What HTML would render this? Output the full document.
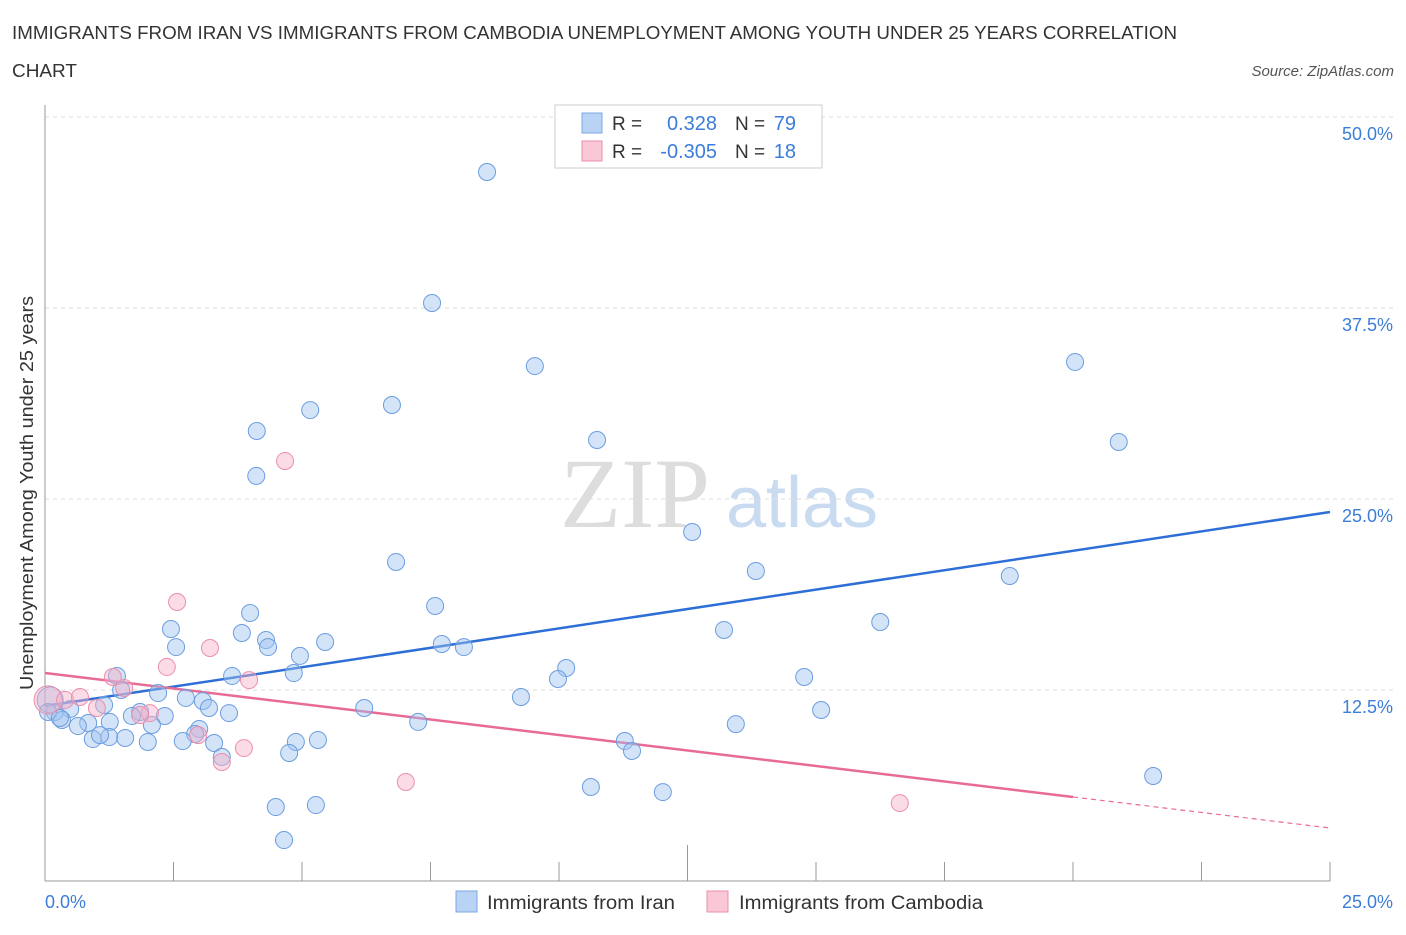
<!DOCTYPE html>
<html><head><meta charset="utf-8"><style>
body{margin:0;background:#fff;font-family:"Liberation Sans",sans-serif;}
</style></head><body>
<svg id="chart" width="1406" height="930" xmlns="http://www.w3.org/2000/svg" style="font-family:'Liberation Sans',sans-serif">
<text x="12" y="39" font-size="18.5" fill="#333" textLength="1165" lengthAdjust="spacingAndGlyphs">IMMIGRANTS FROM IRAN VS IMMIGRANTS FROM CAMBODIA UNEMPLOYMENT AMONG YOUTH UNDER 25 YEARS CORRELATION</text>
<text x="12" y="77" font-size="18.5" fill="#333" textLength="65" lengthAdjust="spacingAndGlyphs">CHART</text>
<text x="1394" y="76" font-size="15" fill="#555" font-style="italic" text-anchor="end">Source: ZipAtlas.com</text>
<text x="635" y="527" font-size="100" fill="#ddd" font-family="Liberation Serif,serif" text-anchor="middle">ZIP</text>
<text x="802" y="527" font-size="72" fill="#c9dbf0" text-anchor="middle">atlas</text>
<g id="grid"></g><g id="axes"></g><g id="trends"></g><g id="pts"></g>
<text x="33" y="493" font-size="18" fill="#333" text-anchor="middle" textLength="394" lengthAdjust="spacingAndGlyphs" transform="rotate(-90 33 493)">Unemployment Among Youth under 25 years</text>
<text x="45" y="908" font-size="18" fill="#3b7dd8">0.0%</text>
<text x="1393" y="908" font-size="18" fill="#3b7dd8" text-anchor="end">25.0%</text>
<g>
<rect x="555" y="105" width="267" height="63" fill="#fff" stroke="#ccc"/>
<rect x="582" y="113" width="20" height="20" fill="#b9d3f5" stroke="#7aa7e6"/>
<rect x="582" y="141" width="20" height="20" fill="#f9c7d6" stroke="#ec8fab"/>
<text x="612" y="130" font-size="19" fill="#333">R =</text><text x="717" y="130" font-size="20" fill="#3b7dd8" text-anchor="end">0.328</text>
<text x="735" y="130" font-size="19" fill="#333">N =</text><text x="796" y="130" font-size="20" fill="#3b7dd8" text-anchor="end">79</text>
<text x="612" y="158" font-size="19" fill="#333">R =</text><text x="717" y="158" font-size="20" fill="#3b7dd8" text-anchor="end">-0.305</text>
<text x="735" y="158" font-size="19" fill="#333">N =</text><text x="796" y="158" font-size="20" fill="#3b7dd8" text-anchor="end">18</text>
</g>
<g>
<rect x="456" y="891" width="21" height="21" fill="#b9d3f5" stroke="#7aa7e6"/>
<text x="487" y="909" font-size="19" fill="#333" textLength="188" lengthAdjust="spacingAndGlyphs">Immigrants from Iran</text>
<rect x="707" y="891" width="21" height="21" fill="#f9c7d6" stroke="#ec8fab"/>
<text x="739" y="909" font-size="19" fill="#333" textLength="244" lengthAdjust="spacingAndGlyphs">Immigrants from Cambodia</text>
</g>
</svg>
<script>
const iranX=[8.60,7.53,9.53,20.04,6.75,5.16,4.12,10.74,20.89,4.11,12.59,6.83,13.83,18.77,7.59,3.99,2.45,13.21,16.25,3.83,4.30,4.34,5.45,2.55,7.72,8.15,4.96,10.14,9.98,4.84,3.64,1.40,14.77,1.48,2.20,2.74,3.07,9.26,1.15,3.19,6.21,15.10,0.49,1.85,1.69,2.33,3.58,0.19,0.33,0.84,1.26,2.08,7.26,13.44,0.64,3.00,2.92,0.93,1.25,1.56,2.68,2.00,5.31,4.88,3.29,11.28,11.42,4.75,3.44,21.56,10.62,12.02,4.49,5.27,4.65,0.10,0.06,0.29,1.07];
const iranY=[46.40,37.83,33.70,33.97,31.15,30.82,29.45,28.86,28.73,26.51,22.84,20.88,20.29,19.96,18.00,17.54,16.49,16.43,16.95,16.23,15.77,15.31,15.64,15.31,15.51,15.31,14.73,13.94,13.22,13.61,13.42,13.42,13.35,12.50,12.30,11.98,11.78,12.04,11.52,11.32,11.32,11.19,11.26,11.06,10.80,10.80,10.99,11.06,10.54,10.34,10.41,10.21,10.41,10.27,10.14,9.95,9.62,9.29,9.42,9.36,9.16,9.10,9.23,9.10,9.03,9.16,8.51,8.38,8.12,6.87,6.15,5.82,4.84,4.97,2.68,11.85,11.06,10.67,9.55];
const cambX=[0.06,0.39,0.68,1.32,1.54,1.01,2.04,2.37,2.57,3.21,3.97,4.67,2.98,3.44,3.87,7.02,16.63,1.85];
const cambY=[11.85,11.85,12.04,13.35,12.63,11.32,10.99,14.01,18.26,15.25,13.15,27.49,9.55,7.79,8.70,6.48,5.10,10.86];
const iranTrend=[11.45,24.15];
const cambTrend=[13.61,5.50,3.47];
const yTicks=[12.5,25,37.5,50];
const xTicks=[0,2.5,5,7.5,10,12.5,15,17.5,20,22.5,25];
const NS='http://www.w3.org/2000/svg';
const sx=v=>45+v*51.4, sy=v=>881-v*15.28;
function mk(p,t,a){const e=document.createElementNS(NS,t);for(const k in a)e.setAttribute(k,a[k]);p.appendChild(e);return e;}
const grid=document.getElementById('grid'),axes=document.getElementById('axes'),tr=document.getElementById('trends'),pts=document.getElementById('pts');
yTicks.forEach(v=>{
 const l=mk(grid,'line',{x1:45,x2:1395,y1:sy(v),y2:sy(v),stroke:'#ddd','stroke-dasharray':'4,4'});
 
 
 const t=mk(grid,'text',{x:1393,y:sy(v)+23,'font-size':18,fill:'#3b7dd8','text-anchor':'end'});
 t.textContent=v.toFixed(1)+'%';
 
 
});
const ax=mk(axes,'line',{x1:45,x2:1330,y1:881,y2:881,stroke:'#999'});


const ay=mk(axes,'line',{x1:45,x2:45,y1:105,y2:881,stroke:'#999'});


xTicks.forEach((v,i)=>{
 const t=mk(axes,'line',{x1:sx(v),x2:sx(v),y1:i==5?845:862,y2:881,stroke:'#999'});
 
 
});
const bl=mk(tr,'line',{x1:sx(0),y1:sy(iranTrend[0]),x2:sx(25),y2:sy(iranTrend[1]),stroke:'#2d6fd6','stroke-width':2.5});


const pl=mk(tr,'line',{x1:sx(0),y1:sy(cambTrend[0]),x2:sx(20),y2:sy(cambTrend[1]),stroke:'#e86b97','stroke-width':2.5});


const pd=mk(tr,'line',{x1:sx(20),y1:sy(cambTrend[1]),x2:sx(25),y2:sy(cambTrend[2]),stroke:'#e86b97','stroke-width':1.2,'stroke-dasharray':'5,4'});


iranX.forEach((x,i)=>{
 const c=mk(pts,'circle',{cx:sx(x),cy:sy(iranY[i]),r:i==75?13:8.5,fill:'rgba(160,195,240,0.45)',stroke:'#6b9de0','stroke-width':1});
 
 
});
cambX.forEach((x,i)=>{
 const c=mk(pts,'circle',{cx:sx(x),cy:sy(cambY[i]),r:i==0?14:8.5,fill:'rgba(245,175,200,0.45)',stroke:'#ec8fab','stroke-width':1});
 
 
});
</script>
</body></html>
